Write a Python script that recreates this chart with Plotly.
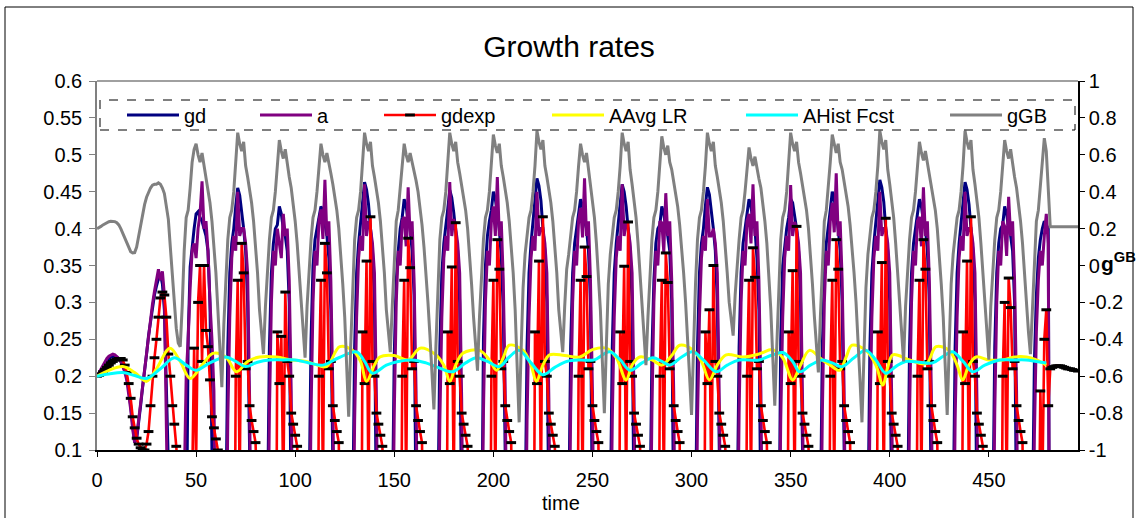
import plotly.graph_objects as go

FONT = "Liberation Sans, Arial, sans-serif"

TITLE = "Growth rates"
X_TITLE = "time"
X_TICKS = [0, 50, 100, 150, 200, 250, 300, 350, 400, 450]
Y_TICKS = [0.1, 0.15, 0.2, 0.25, 0.3, 0.35, 0.4, 0.45, 0.5, 0.55, 0.6]
Y_TICK_TEXT = ["0.1", "0.15", "0.2", "0.25", "0.3", "0.35", "0.4", "0.45", "0.5", "0.55", "0.6"]
Y2_TICKS = [-1, -0.8, -0.6, -0.4, -0.2, 0, 0.2, 0.4, 0.6, 0.8, 1]
Y2_TICK_TEXT = ["-1", "-0.8", "-0.6", "-0.4", "-0.2", "0", "0.2", "0.4", "0.6", "0.8", "1"]

# ---- gd : (start time, values per time step) ----
GD = [
    (0, [0.2, 0.204, 0.208, 0.212, 0.216, 0.22, 0.223, 0.226, 0.227, 0.227,
         0.226, 0.224, 0.22, 0.215, 0.208, 0.198, 0.183, 0.16, 0.13, 0.11,
         0.115, 0.135, 0.16, 0.185, 0.205, 0.23, 0.255, 0.275, 0.295, 0.31,
         0.322, 0.332, 0.338, 0.325, 0.29, 0.2, 0.08, -0.3, -0.45]),
    (44, [-0.4, 0.0, 0.25, 0.348, 0.38, 0.4, 0.42, 0.423, 0.415, 0.41, 0.4, 0.39, 0.37, 0.3, 0.1, -0.3]),
    (64, [-0.4, 0.0, 0.24, 0.34, 0.38, 0.40, 0.43, 0.455, 0.445, 0.425, 0.40, 0.37, 0.30, 0.10, -0.30]),
    (85, [-0.4, 0.0, 0.24, 0.34, 0.38, 0.40, 0.405, 0.43, 0.42, 0.40, 0.39, 0.37, 0.30, 0.10, -0.30]),
    (106, [-0.4, 0.02, 0.25, 0.35, 0.385, 0.40, 0.41, 0.43, 0.425, 0.405, 0.39, 0.36, 0.29, 0.08, -0.30]),
    (128, [-0.4, 0.0, 0.24, 0.34, 0.38, 0.41, 0.438, 0.463, 0.453, 0.433, 0.40, 0.37, 0.30, 0.10, -0.30]),
    (148, [-0.4, 0.0, 0.23, 0.33, 0.37, 0.40, 0.415, 0.44, 0.43, 0.41, 0.40, 0.37, 0.31, 0.12, -0.30]),
    (171, [-0.4, 0.01, 0.24, 0.34, 0.38, 0.40, 0.427, 0.452, 0.442, 0.422, 0.40, 0.37, 0.30, 0.10, -0.30]),
    (193, [-0.4, 0.0, 0.25, 0.35, 0.39, 0.41, 0.425, 0.45, 0.44, 0.42, 0.40, 0.36, 0.29, 0.09, -0.30]),
    (215, [-0.4, 0.0, 0.24, 0.34, 0.38, 0.41, 0.443, 0.468, 0.458, 0.438, 0.40, 0.37, 0.30, 0.10, -0.30]),
    (237, [-0.4, 0.0, 0.24, 0.34, 0.38, 0.40, 0.415, 0.44, 0.43, 0.41, 0.40, 0.37, 0.30, 0.10, -0.30]),
    (258, [-0.4, 0.01, 0.24, 0.34, 0.38, 0.41, 0.435, 0.46, 0.45, 0.43, 0.40, 0.37, 0.30, 0.11, -0.30]),
    (278, [-0.4, 0.0, 0.23, 0.33, 0.38, 0.40, 0.405, 0.43, 0.42, 0.40, 0.39, 0.37, 0.30, 0.10, -0.30]),
    (301, [-0.4, 0.0, 0.24, 0.34, 0.38, 0.40, 0.431, 0.456, 0.446, 0.426, 0.40, 0.37, 0.30, 0.10, -0.30]),
    (322, [-0.4, 0.0, 0.24, 0.34, 0.38, 0.40, 0.415, 0.44, 0.43, 0.41, 0.40, 0.36, 0.29, 0.10, -0.30]),
    (343, [-0.4, 0.0, 0.25, 0.35, 0.38, 0.40, 0.415, 0.44, 0.435, 0.415, 0.40, 0.37, 0.30, 0.10, -0.30]),
    (364, [-0.4, 0.0, 0.24, 0.34, 0.38, 0.40, 0.425, 0.45, 0.44, 0.42, 0.40, 0.37, 0.30, 0.10, -0.30]),
    (388, [-0.4, 0.0, 0.24, 0.34, 0.38, 0.41, 0.441, 0.466, 0.456, 0.436, 0.40, 0.37, 0.30, 0.10, -0.30]),
    (408, [-0.4, 0.0, 0.24, 0.34, 0.38, 0.40, 0.415, 0.44, 0.43, 0.41, 0.40, 0.37, 0.30, 0.10, -0.30]),
    (431, [-0.4, 0.0, 0.24, 0.34, 0.38, 0.41, 0.438, 0.463, 0.453, 0.433, 0.40, 0.37, 0.30, 0.10, -0.30]),
    (451, [-0.4, 0.0, 0.24, 0.34, 0.38, 0.40, 0.405, 0.43, 0.42, 0.40, 0.39, 0.37, 0.30, 0.10, -0.30]),
    (471, [-0.4, 0.0, 0.22, 0.31, 0.36, 0.385, 0.40, 0.41, 0.405, 0.40, -0.45]),
]

# ---- a ----
A = [
    (0, [0.2, 0.205, 0.21, 0.215, 0.22, 0.224, 0.227, 0.229, 0.23, 0.229,
         0.227, 0.224, 0.22, 0.214, 0.206, 0.195, 0.178, 0.155, 0.128, 0.11,
         0.118, 0.14, 0.165, 0.19, 0.21, 0.235, 0.258, 0.28, 0.298, 0.315,
         0.33, 0.345, 0.33, 0.342, 0.31, 0.2, 0.1, -0.2, -0.4]),
    (43, [-0.35, 0.05, 0.2, 0.25, 0.32, 0.37, 0.38, 0.36, 0.40, 0.42, 0.464, 0.40, 0.41, 0.37, 0.30, 0.25, 0.18, -0.2, -0.4]),
    (64, [-0.35, -0.1, 0.14, 0.28, 0.36, 0.39, 0.37, 0.45, 0.39, 0.40, 0.40, 0.38, 0.34, 0.17, -0.1, -0.4]),
    (85, [-0.35, -0.1, 0.15, 0.30, 0.37, 0.35, 0.40, 0.38, 0.36, 0.42, 0.39, 0.40, 0.33, 0.18, -0.1, -0.4]),
    (106, [-0.35, -0.1, 0.15, 0.30, 0.37, 0.35, 0.41, 0.426, 0.386, 0.466, 0.39, 0.41, 0.33, 0.18, -0.1, -0.4]),
    (128, [-0.35, -0.1, 0.14, 0.28, 0.36, 0.39, 0.37, 0.46, 0.39, 0.41, 0.40, 0.38, 0.34, 0.17, -0.1, -0.4]),
    (148, [-0.35, -0.1, 0.15, 0.30, 0.37, 0.35, 0.41, 0.416, 0.376, 0.456, 0.39, 0.41, 0.33, 0.18, -0.1, -0.4]),
    (171, [-0.35, -0.1, 0.14, 0.28, 0.36, 0.39, 0.37, 0.463, 0.39, 0.413, 0.40, 0.38, 0.34, 0.17, -0.1, -0.4]),
    (193, [-0.35, -0.1, 0.15, 0.30, 0.37, 0.35, 0.41, 0.43, 0.39, 0.47, 0.39, 0.41, 0.33, 0.18, -0.1, -0.4]),
    (215, [-0.35, -0.1, 0.14, 0.28, 0.36, 0.39, 0.37, 0.45, 0.39, 0.40, 0.40, 0.38, 0.34, 0.17, -0.1, -0.4]),
    (237, [-0.35, -0.1, 0.15, 0.30, 0.37, 0.35, 0.41, 0.428, 0.388, 0.468, 0.39, 0.41, 0.33, 0.18, -0.1, -0.4]),
    (258, [-0.35, -0.1, 0.14, 0.28, 0.36, 0.39, 0.37, 0.46, 0.39, 0.41, 0.40, 0.38, 0.34, 0.17, -0.1, -0.4]),
    (278, [-0.35, -0.1, 0.15, 0.30, 0.37, 0.35, 0.41, 0.408, 0.368, 0.448, 0.39, 0.41, 0.33, 0.18, -0.1, -0.4]),
    (301, [-0.35, -0.1, 0.14, 0.28, 0.36, 0.39, 0.37, 0.44, 0.39, 0.39, 0.40, 0.38, 0.34, 0.17, -0.1, -0.4]),
    (322, [-0.35, -0.1, 0.15, 0.30, 0.37, 0.35, 0.41, 0.42, 0.38, 0.46, 0.39, 0.41, 0.33, 0.18, -0.1, -0.4]),
    (343, [-0.35, -0.1, 0.14, 0.28, 0.36, 0.39, 0.37, 0.459, 0.39, 0.409, 0.40, 0.38, 0.34, 0.17, -0.1, -0.4]),
    (364, [-0.35, -0.1, 0.15, 0.30, 0.37, 0.35, 0.41, 0.435, 0.395, 0.475, 0.39, 0.41, 0.33, 0.18, -0.1, -0.4]),
    (388, [-0.35, -0.1, 0.14, 0.28, 0.36, 0.39, 0.37, 0.45, 0.39, 0.40, 0.40, 0.38, 0.34, 0.17, -0.1, -0.4]),
    (408, [-0.35, -0.1, 0.15, 0.30, 0.37, 0.35, 0.41, 0.416, 0.376, 0.456, 0.39, 0.41, 0.33, 0.18, -0.1, -0.4]),
    (431, [-0.35, -0.1, 0.14, 0.28, 0.36, 0.39, 0.37, 0.45, 0.39, 0.40, 0.40, 0.38, 0.34, 0.17, -0.1, -0.4]),
    (451, [-0.35, -0.1, 0.15, 0.30, 0.37, 0.35, 0.41, 0.403, 0.363, 0.443, 0.39, 0.41, 0.33, 0.18, -0.1, -0.4]),
    (471, [-0.35, -0.1, 0.12, 0.26, 0.33, 0.37, 0.35, 0.39, 0.42, 0.38, -0.4]),
]

# ---- gdexp ----
GDEXP = [
    (0, [0.2, 0.201, 0.203, 0.206, 0.209, 0.212, 0.215, 0.218, 0.22, 0.222,
         0.223, 0.224, 0.224, 0.222, 0.215, 0.205, 0.19, 0.17, 0.145, 0.13,
         0.116, 0.108, 0.103, 0.1, 0.1, 0.108, 0.125, 0.16, 0.2, 0.225,
         0.25, 0.28, 0.306, 0.314, 0.31, 0.28, 0.23, 0.2, 0.16, 0.135,
         0.105, 0.06, -0.4]),
    (47, [-0.4, 0.05, 0.238, 0.08, 0.30, 0.35, 0.22, 0.35, 0.262, 0.24, 0.195, 0.145, 0.13, 0.115, 0.1, -0.4]),
    (69, [-0.3, 0.20, 0.33, 0.05, 0.38, 0.34, 0.21, 0.22, 0.16, 0.14, 0.125, 0.11, 0.02, -0.4]),
    (90, [-0.3, 0.26, 0.19, 0.254, 0.04, 0.314, 0.22, 0.2, 0.15, 0.135, 0.12, 0.105, 0.02, -0.4]),
    (111, [-0.3, 0.20, 0.33, 0.05, 0.38, 0.34, 0.21, 0.22, 0.16, 0.14, 0.125, 0.11, 0.02, -0.4]),
    (133, [-0.3, 0.26, 0.19, 0.356, 0.04, 0.416, 0.22, 0.2, 0.15, 0.135, 0.12, 0.105, 0.02, -0.4]),
    (153, [-0.3, 0.20, 0.33, 0.05, 0.387, 0.347, 0.21, 0.22, 0.16, 0.14, 0.125, 0.11, 0.02, -0.4]),
    (176, [-0.3, 0.26, 0.19, 0.348, 0.04, 0.408, 0.22, 0.2, 0.15, 0.135, 0.12, 0.105, 0.02, -0.4]),
    (198, [-0.3, 0.20, 0.33, 0.05, 0.385, 0.345, 0.21, 0.22, 0.16, 0.14, 0.125, 0.11, 0.02, -0.4]),
    (220, [-0.3, 0.26, 0.19, 0.356, 0.04, 0.416, 0.22, 0.2, 0.15, 0.135, 0.12, 0.105, 0.02, -0.4]),
    (242, [-0.3, 0.20, 0.33, 0.05, 0.375, 0.335, 0.21, 0.22, 0.16, 0.14, 0.125, 0.11, 0.02, -0.4]),
    (263, [-0.3, 0.26, 0.19, 0.349, 0.04, 0.409, 0.22, 0.2, 0.15, 0.135, 0.12, 0.105, 0.02, -0.4]),
    (283, [-0.3, 0.20, 0.33, 0.05, 0.367, 0.327, 0.21, 0.22, 0.16, 0.14, 0.125, 0.11, 0.02, -0.4]),
    (306, [-0.3, 0.26, 0.19, 0.29, 0.04, 0.35, 0.22, 0.2, 0.15, 0.135, 0.12, 0.105, 0.02, -0.4]),
    (327, [-0.3, 0.20, 0.33, 0.05, 0.374, 0.334, 0.21, 0.22, 0.16, 0.14, 0.125, 0.11, 0.02, -0.4]),
    (348, [-0.3, 0.26, 0.19, 0.343, 0.04, 0.403, 0.22, 0.2, 0.15, 0.135, 0.12, 0.105, 0.02, -0.4]),
    (369, [-0.3, 0.20, 0.33, 0.05, 0.385, 0.345, 0.21, 0.22, 0.16, 0.14, 0.125, 0.11, 0.02, -0.4]),
    (393, [-0.3, 0.26, 0.19, 0.354, 0.04, 0.414, 0.22, 0.2, 0.15, 0.135, 0.12, 0.105, 0.02, -0.4]),
    (413, [-0.3, 0.20, 0.33, 0.05, 0.385, 0.345, 0.21, 0.22, 0.16, 0.14, 0.125, 0.11, 0.02, -0.4]),
    (436, [-0.3, 0.26, 0.19, 0.356, 0.04, 0.416, 0.22, 0.2, 0.15, 0.135, 0.12, 0.105, 0.02, -0.4]),
    (456, [-0.3, 0.20, 0.30, 0.05, 0.333, 0.293, 0.21, 0.22, 0.16, 0.14, 0.125, 0.11, 0.02, -0.4]),
    (474, [-0.4, -0.1, 0.18, 0.05, 0.25, 0.29, 0.16, 0.21, 0.212, 0.213, 0.214, 0.214, 0.214, 0.213,
           0.212, 0.211, 0.21, 0.21, 0.209, 0.208, 0.208, 0.207]),
]

# ---- gGB (secondary axis) ----
GGB = [
    (0, [0.2, 0.205, 0.212, 0.22, 0.227, 0.233, 0.237, 0.24, 0.24, 0.238,
         0.232, 0.22, 0.2, 0.175, 0.145, 0.115, 0.09, 0.075, 0.068, 0.07,
         0.1, 0.16, 0.22, 0.28, 0.33, 0.37, 0.4, 0.42, 0.435, 0.44,
         0.44, 0.448, 0.44, 0.42, 0.39, 0.33, 0.25, 0.1, -0.06, -0.22,
         -0.34, -0.42, -0.44]),
    (43, [-0.22, 0.08, 0.26, 0.3, 0.42, 0.56, 0.63, 0.66, 0.6, 0.56, 0.61, 0.54, 0.48, 0.42, 0.34, 0.24, 0.12, -0.04, -0.24, -0.45, -0.66]),
    (64, [-0.32, -0.06, 0.14, 0.26, 0.3, 0.4, 0.54, 0.72, 0.66, 0.62, 0.67, 0.54, 0.48, 0.42, 0.34, 0.24, 0.12, -0.04, -0.24, -0.36, -0.48]),
    (85, [-0.22, -0.02, 0.14, 0.26, 0.3, 0.4, 0.54, 0.68, 0.62, 0.58, 0.63, 0.54, 0.48, 0.42, 0.34, 0.24, 0.12, -0.04, -0.24, -0.37, -0.5]),
    (106, [-0.22, -0.02, 0.14, 0.26, 0.3, 0.4, 0.54, 0.66, 0.6, 0.56, 0.61, 0.56, 0.5, 0.44, 0.38, 0.3, 0.2, 0.06, -0.1, -0.28, -0.55, -0.82]),
    (128, [-0.44, -0.1, 0.14, 0.26, 0.3, 0.4, 0.54, 0.72, 0.66, 0.62, 0.67, 0.54, 0.48, 0.42, 0.34, 0.24, 0.12, -0.04, -0.24, -0.36, -0.47]),
    (149, [-0.22, -0.02, 0.24, 0.3, 0.42, 0.56, 0.66, 0.6, 0.56, 0.61, 0.56, 0.52, 0.46, 0.4, 0.32, 0.22, 0.1, -0.04, -0.2, -0.38, -0.58, -0.78]),
    (171, [-0.44, -0.1, 0.14, 0.26, 0.3, 0.4, 0.54, 0.72, 0.66, 0.62, 0.67, 0.56, 0.5, 0.44, 0.38, 0.3, 0.2, 0.06, -0.1, -0.28, -0.43, -0.57]),
    (193, [-0.28, -0.04, 0.14, 0.26, 0.3, 0.4, 0.54, 0.71, 0.65, 0.61, 0.66, 0.54, 0.48, 0.42, 0.34, 0.24, 0.12, -0.04, -0.24, -0.55, -0.85]),
    (214, [-0.46, -0.12, 0.06, 0.18, 0.26, 0.3, 0.4, 0.54, 0.73, 0.67, 0.63, 0.68, 0.54, 0.48, 0.42, 0.34, 0.24, 0.12, -0.04, -0.24, -0.36, -0.47]),
    (236, [-0.22, -0.02, 0.06, 0.18, 0.26, 0.3, 0.4, 0.54, 0.66, 0.6, 0.56, 0.61, 0.52, 0.44, 0.36, 0.26, 0.12, -0.04, -0.24, -0.52, -0.8]),
    (257, [-0.44, -0.1, 0.06, 0.18, 0.26, 0.3, 0.4, 0.54, 0.72, 0.66, 0.62, 0.67, 0.52, 0.44, 0.36, 0.26, 0.12, -0.04, -0.24, -0.39, -0.54]),
    (278, [-0.28, -0.04, 0.14, 0.26, 0.3, 0.4, 0.54, 0.70, 0.64, 0.6, 0.65, 0.56, 0.52, 0.46, 0.4, 0.32, 0.22, 0.1, -0.04, -0.2, -0.38, -0.6, -0.81]),
    (301, [-0.44, -0.1, 0.14, 0.26, 0.3, 0.4, 0.54, 0.72, 0.66, 0.62, 0.67, 0.54, 0.48, 0.42, 0.34, 0.24, 0.12, -0.04, -0.2, -0.3, -0.38]),
    (322, [-0.16, 0.02, 0.14, 0.26, 0.3, 0.4, 0.54, 0.64, 0.58, 0.54, 0.59, 0.52, 0.47, 0.42, 0.34, 0.24, 0.12, -0.04, -0.24, -0.5, -0.76]),
    (343, [-0.44, -0.1, 0.14, 0.26, 0.3, 0.4, 0.54, 0.72, 0.66, 0.62, 0.67, 0.56, 0.5, 0.44, 0.38, 0.3, 0.2, 0.06, -0.1, -0.28, -0.43, -0.58]),
    (365, [-0.28, -0.04, 0.24, 0.3, 0.42, 0.56, 0.71, 0.65, 0.61, 0.66, 0.56, 0.52, 0.46, 0.4, 0.32, 0.22, 0.1, -0.04, -0.2, -0.38, -0.62, -0.85]),
    (387, [-0.46, -0.12, 0.06, 0.18, 0.26, 0.3, 0.4, 0.54, 0.73, 0.67, 0.63, 0.68, 0.52, 0.44, 0.36, 0.26, 0.12, -0.04, -0.24, -0.38, -0.52]),
    (408, [-0.22, -0.02, 0.14, 0.26, 0.3, 0.4, 0.54, 0.67, 0.61, 0.57, 0.62, 0.56, 0.5, 0.44, 0.38, 0.3, 0.2, 0.06, -0.1, -0.28, -0.55, -0.81]),
    (430, [-0.44, -0.1, 0.06, 0.18, 0.26, 0.3, 0.4, 0.54, 0.73, 0.67, 0.63, 0.68, 0.52, 0.44, 0.36, 0.26, 0.12, -0.04, -0.24, -0.38, -0.51]),
    (451, [-0.22, -0.02, 0.14, 0.26, 0.3, 0.4, 0.54, 0.68, 0.62, 0.58, 0.63, 0.54, 0.48, 0.42, 0.34, 0.24, 0.12, -0.04, -0.24, -0.36, -0.48]),
    (472, [-0.22, -0.02, 0.24, 0.3, 0.42, 0.56, 0.69, 0.62, 0.4, 0.21,
           0.21, 0.21, 0.21, 0.21, 0.21, 0.21, 0.21, 0.21, 0.21, 0.21, 0.21, 0.21, 0.21, 0.21]),
]

# ---- AAvg LR : (time, value) read points ----
AAVG = [(0, 0.2), (6, 0.208), (13, 0.213), (19, 0.205), (25, 0.193), (30, 0.21), (36.8, 0.238),
        (42, 0.22), (47, 0.197), (53, 0.215), (58.5, 0.231), (65, 0.226), (70.4, 0.206), (76, 0.22),
        (82, 0.226), (90.6, 0.226), (98, 0.222), (105.7, 0.22), (110, 0.216), (115.8, 0.213),
        (122.5, 0.24), (129, 0.235), (133, 0.22), (136, 0.193), (140, 0.215), (142.7, 0.226),
        (150, 0.228), (157, 0.222), (163, 0.238), (170, 0.231), (175, 0.215), (178, 0.193),
        (181, 0.215), (184.6, 0.231), (193, 0.235), (198, 0.222), (201.6, 0.208), (205, 0.225),
        (208, 0.242), (215, 0.235), (219, 0.215), (221.7, 0.193), (225, 0.215), (228.4, 0.229),
        (236, 0.228), (243.6, 0.226), (250, 0.236), (257, 0.238), (262, 0.225), (267, 0.195),
        (270, 0.215), (273.8, 0.226), (280, 0.222), (285, 0.215), (290, 0.228), (294, 0.242),
        (300.5, 0.236), (305, 0.22), (309, 0.195), (313, 0.215), (317.5, 0.229), (326, 0.226),
        (334, 0.23), (341, 0.236), (346, 0.225), (351, 0.195), (355, 0.215), (359.5, 0.235),
        (366, 0.222), (370, 0.215), (374.7, 0.208), (378, 0.226), (381, 0.242), (388, 0.235),
        (393, 0.215), (396.5, 0.188), (399, 0.212), (401.6, 0.229), (410, 0.222), (418.4, 0.217),
        (423.4, 0.24), (430, 0.235), (434, 0.215), (436.8, 0.195), (440, 0.215), (443.6, 0.226),
        (450, 0.222), (457, 0.222), (463, 0.226), (469, 0.226), (474, 0.222), (479, 0.215)]

# ---- AHist Fcst ----
AHIST = [(0, 0.2), (6, 0.203), (13, 0.205), (19, 0.201), (25, 0.197), (32, 0.21), (39, 0.225),
         (45, 0.215), (50, 0.208), (57, 0.218), (65, 0.226), (70, 0.22), (75, 0.213), (81, 0.219),
         (87, 0.222), (94, 0.222), (100, 0.222), (107, 0.218), (114, 0.215), (122, 0.225),
         (131, 0.233), (135, 0.22), (139, 0.204), (146, 0.215), (152, 0.22), (159, 0.222),
         (166, 0.218), (172, 0.212), (179.5, 0.206), (186, 0.218), (191.5, 0.225), (197, 0.22),
         (203, 0.213), (208, 0.226), (213, 0.235), (219, 0.218), (225, 0.202), (231, 0.212),
         (237, 0.22), (244, 0.222), (250.6, 0.222), (258.7, 0.233), (264, 0.222), (269, 0.208),
         (275, 0.218), (280.5, 0.225), (285, 0.22), (289, 0.215), (295, 0.226), (300.5, 0.233),
         (306, 0.222), (312.5, 0.206), (318, 0.215), (324, 0.222), (334, 0.222), (340, 0.228),
         (346, 0.232), (351, 0.22), (354.5, 0.206), (360, 0.215), (366, 0.222), (371, 0.218),
         (376, 0.213), (382, 0.225), (388, 0.235), (393, 0.222), (398, 0.204), (403, 0.213),
         (408, 0.22), (415, 0.219), (421.6, 0.218), (427, 0.227), (431.7, 0.233), (437, 0.22),
         (441.9, 0.206), (448, 0.215), (455.4, 0.222), (462, 0.222), (468.8, 0.222), (474, 0.22),
         (479, 0.218)]


def expand(segments):
    xs, ys = [], []
    for start, vals in segments:
        for i, v in enumerate(vals):
            xs.append(start + i)
            ys.append(v)
    return xs, ys


gd_x, gd_y = expand(GD)
a_x, a_y = expand(A)
ge_x, ge_y = expand(GDEXP)
gb_x, gb_y = expand(GGB)

fig = go.Figure()
fig.add_trace(go.Scatter(x=gd_x, y=gd_y, name="gd", mode="lines",
                         line=dict(color="#000080", width=3), legend="legend"))
fig.add_trace(go.Scatter(x=a_x, y=a_y, name="a", mode="lines",
                         line=dict(color="#800080", width=3), legend="legend2"))
fig.add_trace(go.Scatter(x=ge_x, y=ge_y, name="gdexp", mode="lines+markers",
                         line=dict(color="#FF0000", width=2.6),
                         marker=dict(symbol="line-ew", size=7, color="black",
                                     line=dict(color="black", width=3)),
                         legend="legend3"))
fig.add_trace(go.Scatter(x=[p[0] for p in AAVG], y=[p[1] for p in AAVG], name="AAvg LR",
                         mode="lines", line=dict(color="#FFFF00", width=3, shape="spline"),
                         legend="legend4"))
fig.add_trace(go.Scatter(x=[p[0] for p in AHIST], y=[p[1] for p in AHIST], name="AHist Fcst",
                         mode="lines", line=dict(color="#00FFFF", width=3, shape="spline"),
                         legend="legend5"))
fig.add_trace(go.Scatter(x=gb_x, y=gb_y, name="gGB", mode="lines",
                         line=dict(color="#808080", width=3), yaxis="y2", legend="legend6"))

L, R, T, B = 97, 60, 81, 68
W, H = 1138, 518
PW, PH = W - L - R, H - T - B


def px_x(px):
    return (px - L) / PW


def px_y(py):
    return (H - B - py) / PH


def legend_at(px):
    return dict(orientation="h", x=px_x(px), y=px_y(115), xanchor="left", yanchor="middle",
                bgcolor="rgba(0,0,0,0)", borderwidth=0, itemwidth=52,
                font=dict(family=FONT, size=20, color="black"))


fig.update_layout(
    width=W, height=H,
    margin=dict(l=L, r=R, t=T, b=B, pad=0),
    paper_bgcolor="white", plot_bgcolor="white",
    showlegend=True,
    font=dict(family=FONT, size=20, color="black"),
    title=dict(text=TITLE, x=0.5, xanchor="center", y=1 - 46 / H, yanchor="middle",
               font=dict(family=FONT, size=30, color="black")),
    xaxis=dict(range=[0, 495], tickvals=X_TICKS, ticks="outside", ticklen=5, tickcolor="black",
               showline=True, linecolor="black", linewidth=1.5, showgrid=False, zeroline=False,
               ticklabelstandoff=6,
               tickfont=dict(family=FONT, size=20, color="black")),
    yaxis=dict(range=[0.1, 0.6], tickvals=Y_TICKS, ticktext=Y_TICK_TEXT, ticks="outside",
               ticklen=6, tickcolor="#808080", showline=True, linecolor="#808080", linewidth=1.5,
               ticklabelstandoff=3,
               showgrid=False, zeroline=False, tickfont=dict(family=FONT, size=20, color="black")),
    yaxis2=dict(range=[-1, 1], overlaying="y", side="right", tickvals=Y2_TICKS,
                ticktext=Y2_TICK_TEXT, ticks="outside", ticklen=5, tickcolor="black",
                showline=True, linecolor="black", linewidth=1.5, showgrid=False, zeroline=False,
                tickfont=dict(family=FONT, size=20, color="black")),
    legend=legend_at(122),
    legend2=legend_at(255),
    legend3=legend_at(379),
    legend4=legend_at(547),
    legend5=legend_at(741),
    legend6=legend_at(945),
    shapes=[
        dict(type="rect", xref="paper", yref="paper", x0=px_x(100), x1=px_x(1075),
             y0=px_y(130), y1=px_y(100), line=dict(color="black", width=1, dash="dash")),
        dict(type="line", xref="paper", yref="paper", x0=0, x1=1, y0=1, y1=1,
             line=dict(color="#808080", width=1.5)),
        dict(type="rect", xref="paper", yref="paper", x0=px_x(5), x1=px_x(1133),
             y0=px_y(530), y1=px_y(7), line=dict(color="black", width=1)),
    ],
    annotations=[
        dict(text=X_TITLE, xref="paper", yref="paper", x=px_x(561), y=px_y(503),
             xanchor="center", yanchor="middle", showarrow=False,
             font=dict(family=FONT, size=20, color="black")),
        dict(text="<b>g<sup>GB</sup></b>", xref="paper", yref="paper", x=px_x(1099), y=px_y(262),
             xanchor="left", yanchor="middle", showarrow=False,
             font=dict(family=FONT, size=21, color="black")),
    ],
)

fig.write_html("out.html")
